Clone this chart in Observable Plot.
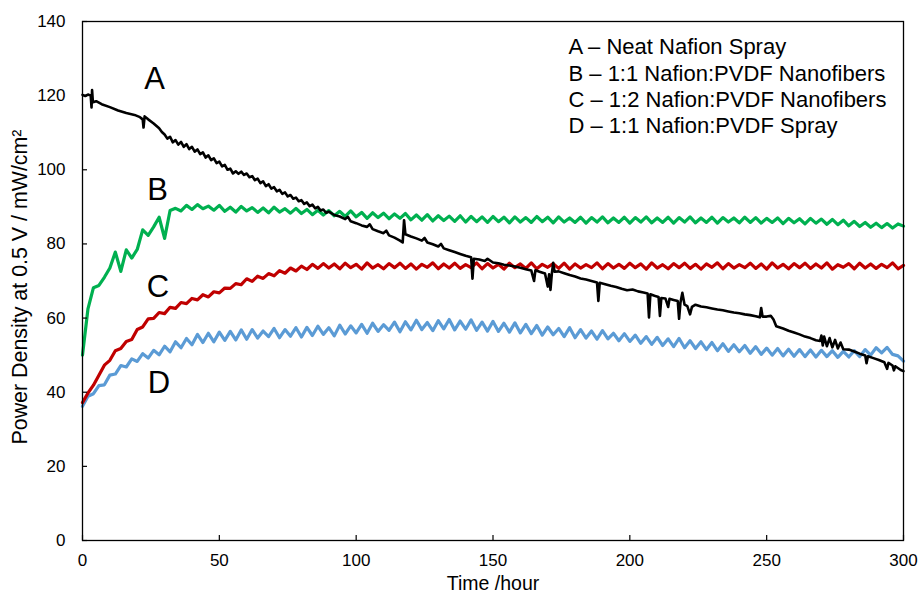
<!DOCTYPE html>
<html>
<head>
<meta charset="utf-8">
<script src="https://cdn.jsdelivr.net/npm/d3@7"></script>
<script src="https://cdn.jsdelivr.net/npm/@observablehq/plot@0.6"></script>
<style>
  html, body { margin: 0; padding: 0; background: #ffffff; }
  #chart svg { display: block; }
</style>
</head>
<body>
<div id="chart"></div>
<script>
// ---------- data ----------
const xTicks = [0, 50, 100, 150, 200, 250, 300];
const yTicks = [0, 20, 40, 60, 80, 100, 120, 140];
const seriesNames = ["A", "B", "C", "D"];
const seriesColors = ["#000000", "#00b050", "#c00000", "#5b9bd5"];
const legendLabels = [
  "A \u2013 Neat Nafion Spray",
  "B \u2013 1:1 Nafion:PVDF Nanofibers",
  "C \u2013 1:2 Nafion:PVDF Nanofibers",
  "D \u2013 1:1 Nafion:PVDF Spray"
];
const labelTime = [26.3, 27.4, 27.6, 27.9];
const labelPower = [124.4, 94.6, 68.4, 42.5];
const sampleStepHours = 2; // B, C, D sampled every 2 hours from t = 0

// A: [time (h), power density]
const seriesA = [
  [0,120.2],[1,119.9],[2,120.3],[3,120.0],[3.3,116.8],[3.5,121.5],[3.8,118.2],[5,118.5],[7,117.7],[10,116.9],
  [13,116.0],[16,115.3],[19,114.8],[21,114.2],[22,113.6],[22.3,111.4],[22.7,114.4],[24,113.6],[26,112.5],[28,111.2],
  [29,110.2],[30,109.5],[31,108.4],[32,108.9],[33,107.4],[34,108.0],[35,106.8],[36,107.5],[37,106.2],[38,106.9],
  [39,105.6],[40,106.2],[41,104.9],[42,105.5],[43,104.2],[44,104.7],[45,103.3],[46,103.9],[47,102.6],[48,103.1],
  [49,101.8],[50,102.2],[51,100.9],[52,101.3],[53,100.0],[54,100.3],[55,99.0],[56,99.6],[57,98.9],[58,99.5],
  [59,98.6],[60,99.0],[61,98.0],[62,98.3],[63,97.2],[64,97.6],[65,96.4],[66,96.9],[67,95.6],[68,96.1],
  [69,94.9],[70,95.3],[71,94.2],[72,94.6],[73,93.5],[74,93.9],[75,92.8],[76,93.2],[77,92.2],[78,92.5],
  [79,91.5],[80,91.8],[81,90.8],[82,91.2],[83,90.2],[84,90.6],[85,89.6],[86,90.0],[87,89.0],[88,89.3],
  [89,88.4],[90,88.7],[92,87.8],[94,87.4],[96,86.7],[97,87.3],[98,86.1],[100,85.6],[102,85.0],[104,84.6],
  [105,85.3],[106,84.0],[108,83.4],[110,82.9],[111,83.6],[112,82.3],[114,81.7],[116,80.9],[117,80.4],[117.5,86.4],
  [118,82.6],[120,82.0],[122,81.5],[124,80.9],[125,81.6],[126,80.4],[128,79.9],[130,79.3],[131,80.0],[132,78.8],
  [134,78.3],[136,77.8],[138,77.3],[140,76.8],[142,76.4],[142.5,70.6],[143,76.0],[145,75.8],[147,75.4],[148,76.0],
  [150,75.0],[152,74.8],[154,74.4],[156,74.2],[158,73.9],[160,73.6],[162,73.2],[164,72.8],[165,70.0],[165.5,72.9],
  [167,72.5],[169,72.0],[170,68.5],[170.5,71.8],[171,67.6],[171.5,72.0],[172,74.9],[172.5,72.5],[174,72.6],[176,72.1],
  [178,71.6],[180,71.2],[182,70.7],[184,70.4],[186,70.0],[188,69.6],[188.5,64.6],[189,69.5],[191,69.1],[193,68.7],
  [195,68.4],[197,67.9],[199,67.5],[201,67.7],[203,67.2],[205,66.9],[206.5,66.6],[207,60.2],[207.5,66.4],[209,66.0],
  [210.5,65.7],[211,60.6],[211.5,65.4],[213,65.3],[214,63.0],[214.5,65.2],[216,64.9],[217.5,64.6],[218,59.8],[218.5,64.2],
  [219.2,66.8],[220,63.6],[221,63.2],[222,61.0],[222.7,63.0],[224,63.6],[226,63.1],[228,62.9],[230,62.6],[232,62.3],
  [234,62.1],[236,61.8],[238,61.5],[240,61.3],[242,61.0],[244,60.8],[246,60.5],[247.5,60.2],[248,62.7],[248.5,60.4],
  [250,60.4],[251.5,60.6],[252.5,59.6],[253.5,57.8],[256,57.2],[258,56.6],[260,56.1],[262,55.6],[264,55.0],[266,54.6],
  [268,54.0],[269.5,53.8],[270,55.3],[270.5,52.6],[271,55.0],[272,52.4],[273,54.6],[274,52.1],[275,54.1],[276,51.8],
  [277,53.4],[278,51.6],[280,51.5],[282,51.0],[284,50.4],[286,49.9],[286.5,47.8],[287,49.7],[289,49.2],[291,48.7],
  [293,48.1],[294,46.3],[294.5,47.9],[296,47.2],[296.5,45.9],[297,47.0],[299,46.0],[300,45.7]
];

// B: every 2 h from 0 to 300
const seriesB = [
  50.0, 62.5, 68.2, 68.8, 71.0, 73.5, 77.8, 72.6, 78.4, 76.2,
  78.5, 83.8, 82.3, 84.6, 87.2, 81.5, 89.0, 89.6, 88.9, 90.4,
  89.3, 90.6, 89.5, 90.2, 89.1, 90.4, 88.8, 89.9, 88.6, 90.1,
  88.9, 89.8, 88.5, 89.7, 88.4, 89.9, 88.6, 89.5, 88.3, 89.6,
  88.2, 89.3, 87.9, 89.1, 87.8, 89.0, 87.6, 88.8, 87.4, 88.9,
  87.3, 88.5, 86.9, 88.4, 87.1, 88.3, 86.8, 88.1, 86.9, 88.2,
  86.5, 87.8, 86.4, 87.9, 86.2, 87.6, 86.3, 87.5, 86.1, 87.6,
  85.9, 87.4, 86.0, 87.3, 85.8, 87.4, 86.0, 87.2, 85.7, 87.3,
  85.9, 87.1, 85.8, 87.4, 86.0, 87.2, 85.7, 87.3, 85.9, 87.0,
  85.8, 87.2, 85.6, 87.1, 85.9, 87.3, 85.7, 87.0, 85.8, 87.2,
  85.6, 87.1, 85.9, 87.3, 85.7, 87.0, 85.8, 87.2, 85.6, 87.1,
  85.9, 87.3, 85.7, 87.0, 85.8, 87.2, 85.6, 87.1, 85.9, 87.0,
  85.7, 87.2, 85.8, 87.1, 85.6, 86.9, 85.8, 87.0, 85.5, 86.9,
  85.7, 86.8, 85.4, 86.9, 85.6, 86.7, 85.3, 86.6, 85.2, 86.4,
  84.9, 86.1, 84.7, 85.8, 84.5, 85.6, 84.4, 85.5, 84.3, 85.4,
  84.8
];

// C: every 2 h from 0 to 300
const seriesC = [
  37.2, 39.8, 41.9, 44.6, 47.3, 48.6, 51.2, 51.8, 53.7, 54.2,
  56.9, 57.6, 59.8, 59.9, 61.5, 61.2, 62.9, 62.6, 64.2, 63.9,
  65.3, 64.9, 66.3, 65.7, 67.1, 66.8, 68.1, 68.0, 69.3, 69.0,
  70.6, 69.9, 71.3, 70.7, 72.0, 71.4, 72.8, 72.1, 73.5, 72.7,
  74.0, 73.1, 74.5, 73.4, 74.7, 73.5, 74.6, 73.3, 74.8, 73.6,
  74.5, 73.2, 74.9, 73.5, 74.4, 73.3, 74.7, 73.6, 74.8, 73.4,
  74.6, 73.2, 74.5, 73.7, 74.9, 73.3, 74.6, 73.5, 74.8, 73.4,
  74.4, 73.6, 74.9, 73.3, 74.7, 73.5, 74.5, 73.2, 74.8, 73.6,
  74.6, 73.4, 74.9, 73.3, 74.5, 73.7, 74.7, 73.4, 74.8, 73.2,
  74.6, 73.5, 74.4, 73.6, 74.9, 73.3, 74.7, 73.5, 74.5, 73.4,
  74.8, 73.6, 74.6, 73.2, 74.9, 73.5, 74.4, 73.3, 74.7, 73.6,
  74.8, 73.4, 74.5, 73.2, 74.6, 73.7, 74.9, 73.3, 74.7, 73.5,
  74.4, 73.6, 74.8, 73.4, 74.6, 73.2, 74.9, 73.5, 74.5, 73.3,
  74.7, 73.6, 74.8, 73.4, 74.6, 73.5, 74.9, 73.2, 74.4, 73.7,
  74.7, 73.3, 74.8, 73.5, 74.6, 73.4, 74.5, 73.6, 74.9, 73.3,
  74.2
];

// D: every 2 h from 0 to 300
const seriesD = [
  36.2, 38.9, 39.6, 41.8, 42.0, 44.6, 44.9, 47.2, 46.8, 49.0,
  48.3, 50.4, 49.2, 51.3, 50.1, 52.4, 50.9, 53.6, 52.0, 54.5,
  52.8, 55.6, 53.4, 55.9, 53.6, 56.2, 54.0, 56.4, 54.1, 56.8,
  54.3, 56.9, 54.6, 56.5, 55.0, 57.2, 54.7, 56.9, 55.1, 57.4,
  54.9, 57.5, 55.3, 57.8, 55.6, 57.4, 55.2, 58.1, 55.7, 57.9,
  56.0, 58.3, 55.9, 58.6, 56.4, 58.2, 56.7, 58.9, 56.3, 59.0,
  56.8, 59.4, 56.9, 58.8, 56.6, 59.3, 57.1, 59.6, 56.8, 59.2,
  57.0, 59.5, 56.7, 58.9, 56.5, 59.1, 56.4, 58.6, 56.2, 58.7,
  56.0, 58.3, 55.8, 58.0, 55.4, 57.6, 55.5, 57.2, 55.0, 57.4,
  54.7, 56.9, 54.6, 56.5, 54.3, 56.6, 54.4, 55.9, 53.9, 55.8,
  53.7, 55.4, 53.2, 55.0, 52.9, 54.8, 52.6, 54.4, 52.3, 54.5,
  52.0, 53.9, 51.8, 53.6, 51.5, 53.4, 51.2, 53.1, 51.0, 52.8,
  50.9, 52.6, 50.5, 52.3, 50.2, 51.9, 50.0, 51.8, 49.8, 51.6,
  49.7, 51.5, 49.6, 51.4, 49.5, 51.3, 49.6, 51.2, 49.4, 51.0,
  49.5, 51.2, 49.6, 51.5, 50.0, 52.0, 50.6, 52.1, 50.2, 49.8,
  48.4
];

// ---------- build tables ----------
const toRows = (name, values) => values.map((v, i) => ({series: name, time: i * sampleStepHours, power: v}));
const rowsA = seriesA.map(([t, v]) => ({series: "A", time: t, power: v}));
const rowsB = toRows("B", seriesB);
const rowsC = toRows("C", seriesC);
const rowsD = toRows("D", seriesD);
const letterRows = seriesNames.map((s, i) => ({s, time: labelTime[i], power: labelPower[i]}));

const W = 918, H = 598;
const mL = 82, mR = 15, mT = 21, mB = 58;
const plotW = W - mL - mR, plotH = H - mT - mB;
const font = "'Liberation Sans', Arial, Helvetica, sans-serif";

const chart = Plot.plot({
  width: W,
  height: H,
  marginLeft: mL,
  marginRight: mR,
  marginTop: mT,
  marginBottom: mB,
  style: {fontFamily: font, fontSize: "17px", color: "#000", background: "#fff", overflow: "visible"},
  x: {domain: [0, 300]},
  y: {domain: [0, 140]},
  marks: [
    Plot.line(rowsD, {x: "time", y: "power", stroke: seriesColors[3], strokeWidth: 3.2}),
    Plot.line(rowsC, {x: "time", y: "power", stroke: seriesColors[2], strokeWidth: 3.2}),
    Plot.line(rowsB, {x: "time", y: "power", stroke: seriesColors[1], strokeWidth: 3.2}),
    Plot.line(rowsA, {x: "time", y: "power", stroke: seriesColors[0], strokeWidth: 2.6}),
    Plot.text(letterRows, {x: "time", y: "power", text: "s", fontSize: 31, fill: "#000"}),
    Plot.text([legendLabels.join("\n")], {
      frameAnchor: "top-left", dx: 486, dy: 14, textAnchor: "start", lineAnchor: "top",
      lineHeight: 1.2, fontSize: 22, fill: "#000"
    }),
    Plot.axisX({ticks: xTicks, tickSize: 0, tickPadding: 13, label: null, fontSize: 17}),
    Plot.axisY({ticks: yTicks, tickSize: 0, tickPadding: 17, label: null, fontSize: 17}),
    Plot.ruleX(xTicks, {x: d => d, insetTop: plotH - 5, stroke: "#000", strokeWidth: 1.2}),
    Plot.ruleY(yTicks, {y: d => d, insetRight: plotW - 5, stroke: "#000", strokeWidth: 1.2}),
    Plot.frame({stroke: "#000", strokeWidth: 1.3}),
    Plot.text(["Time /hour"], {frameAnchor: "bottom", dy: 49, fontSize: 19.5, fill: "#000"}),
    Plot.text(["Power Density at 0.5 V / mW/cm\u00b2"], {
      frameAnchor: "left", textAnchor: "middle", dx: -62, dy: 6, rotate: -90, fontSize: 21.4, fill: "#000"
    })
  ]
});
document.getElementById("chart").appendChild(chart);
</script>
</body>
</html>
